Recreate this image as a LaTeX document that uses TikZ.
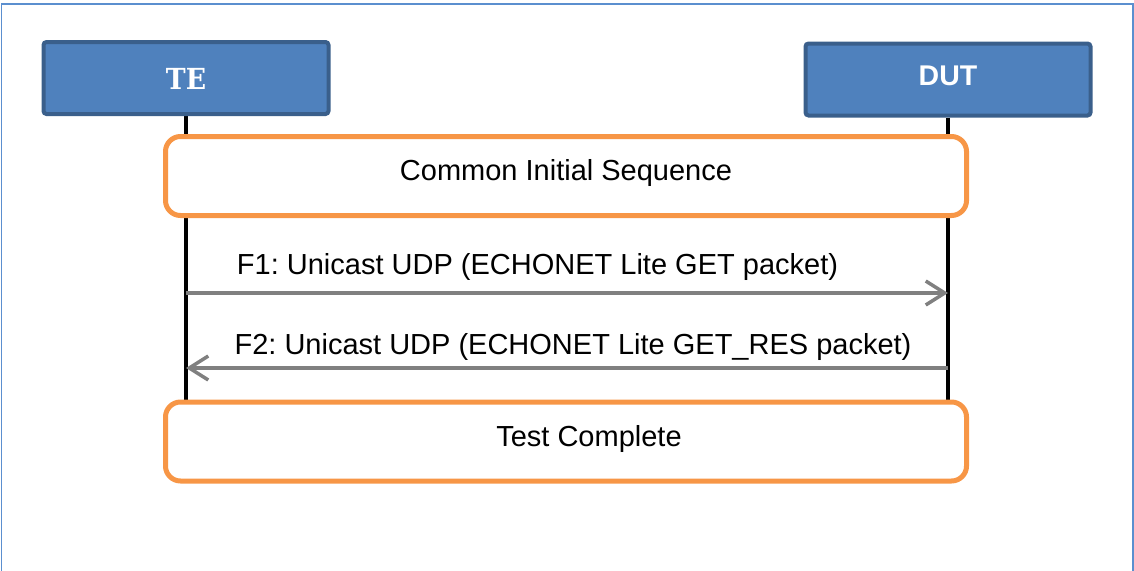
\documentclass[tikz,border=0pt]{standalone}
\usepackage{fontspec}
\newfontfamily\arial{Liberation Sans}
\newfontfamily\heavyserif{DejaVu Serif}
\usetikzlibrary{arrows.meta,backgrounds}
\definecolor{boxblue}{HTML}{4F81BD}
\definecolor{boxedge}{HTML}{3A5F8B}
\definecolor{frameblue}{HTML}{5B8FCF}
\definecolor{seqorange}{HTML}{F79646}
\definecolor{msggray}{HTML}{808080}
\frenchspacing
\begin{document}
\begin{tikzpicture}[x=1pt,y=-1pt,
  actor/.style={draw=boxedge, fill=boxblue, line width=4pt, rounded corners=3pt,
    minimum width=285pt, minimum height=72pt, inner sep=0pt},
  phase/.style={draw=seqorange, fill=white, line width=5pt, rounded corners=15pt,
    minimum width=801pt, minimum height=79pt, inner sep=0pt},
  lifeline/.style={line width=3.5pt, black},
  msg/.style={draw=msggray, line width=3.5pt, -{Straight Barb[length=19pt,width=24pt]}},
  lbl/.style={font=\arial\fontsize{29}{29}\selectfont, anchor=base, inner sep=0pt},
  actorlbl/.style={text=white, anchor=base, inner sep=0pt}]
\useasboundingbox (0,0) rectangle (1134,570);
\draw[frameblue, line width=1.5pt] (1.5,590) -- (1.5,4) -- (1133,4) -- (1133,590);

\node[actor] (te) at (186,78) {};
\node[actorlbl, font=\heavyserif\fontsize{29}{29}\selectfont] (teL) at (186,89) {\scalebox{0.92}[1]{\textbf{TE}}};
\node[actor] (dut) at (948,79.5) {};
\node[actorlbl, font=\arial\fontsize{28.5}{28.5}\selectfont] (dutL) at (948,85) {\textbf{DUT}};

\node[phase] (cis) at (566,176) {};
\node[lbl] (cisL) at (566,180) {Common Initial Sequence};
\node[phase] (tc) at (566,441.5) {};
\node[lbl] (tcL) at (589,446) {Test Complete};

\begin{scope}[on background layer]
  \draw[lifeline] (te.south) -- (te.south |- tc.north);
  \draw[lifeline] (dut.south) -- (dut.south |- tc.north);
\end{scope}

\coordinate (f1from) at (186,293);
\coordinate (f1to) at (948,293);
\coordinate (f2from) at (948,368);
\coordinate (f2to) at (186,368);
\draw[msg] (f1from) -- (f1to);
\draw[msg] (f2from) -- (f2to);
\node[lbl] (f1) at (537.5,274) {F1: Unicast UDP (ECHONET Lite GET packet)};
\node[lbl] (f2) at (573,354) {F2: Unicast UDP (ECHONET Lite GET\_RES packet)};
\end{tikzpicture}
\end{document}
